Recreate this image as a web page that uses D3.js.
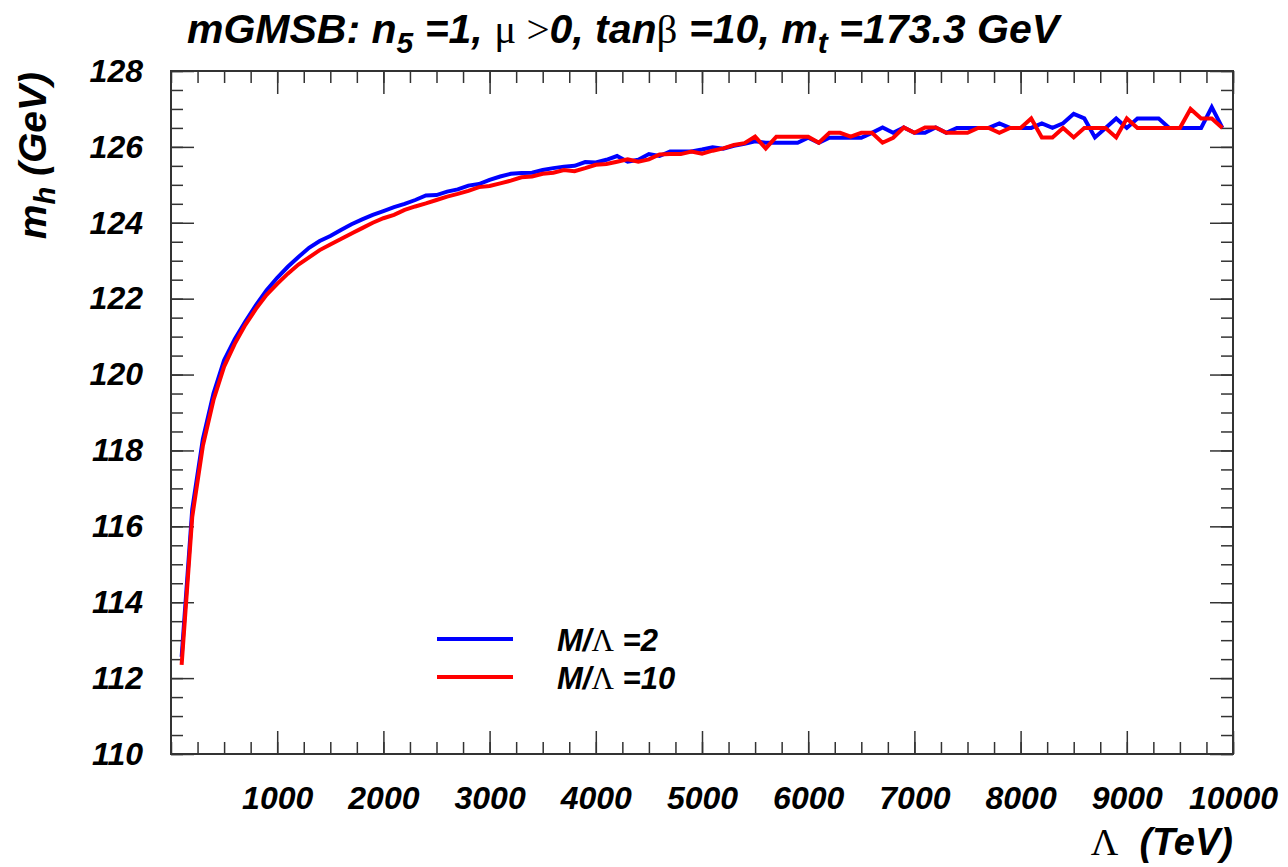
<!DOCTYPE html>
<html lang="en">
  <head>
    <meta charset="UTF-8" />
    <title>mGMSB Higgs mass</title>
    <script src="https://cdn.jsdelivr.net/npm/d3@7"></script>
    <style type="text/css">
      body { margin: 0; background: #fff; }
      .lab { font-family: 'Liberation Sans', Arial, sans-serif; font-weight: bold; font-style: italic; fill: #000; white-space: pre; }
      .sym { font-family: 'Liberation Serif', 'DejaVu Serif', serif; font-weight: normal; font-style: normal; }
    </style>
  </head>
  <body>
    <div class="chart"></div>
    <script type="text/javascript">
      // Lambda (TeV)
      var lambdaVals = [
        100, 200, 300, 400, 500, 600, 700, 800, 900, 1000,
        1100, 1200, 1300, 1400, 1500, 1600, 1700, 1800, 1900, 2000,
        2100, 2200, 2300, 2400, 2500, 2600, 2700, 2800, 2900, 3000,
        3100, 3200, 3300, 3400, 3500, 3600, 3700, 3800, 3900, 4000,
        4100, 4200, 4300, 4400, 4500, 4600, 4700, 4800, 4900, 5000,
        5100, 5200, 5300, 5400, 5500, 5600, 5700, 5800, 5900, 6000,
        6100, 6200, 6300, 6400, 6500, 6600, 6700, 6800, 6900, 7000,
        7100, 7200, 7300, 7400, 7500, 7600, 7700, 7800, 7900, 8000,
        8100, 8200, 8300, 8400, 8500, 8600, 8700, 8800, 8900, 9000,
        9100, 9200, 9300, 9400, 9500, 9600, 9700, 9800, 9900
      ]
      // m_h for M/Lambda = 2
      var mhRatio2 = [
        112.56, 116.45, 118.3, 119.5, 120.38, 120.93, 121.4, 121.83, 122.22, 122.55,
        122.84, 123.1, 123.34, 123.52, 123.65, 123.81, 123.96, 124.09, 124.21, 124.31,
        124.41, 124.5, 124.6, 124.72, 124.73, 124.82, 124.88, 124.98, 125.02, 125.13,
        125.22, 125.29, 125.31, 125.32, 125.39, 125.44, 125.48, 125.5, 125.6, 125.59,
        125.66, 125.76, 125.61, 125.66, 125.81, 125.76, 125.88, 125.88, 125.88, 125.93,
        125.99, 125.95, 126.03, 126.08, 126.15, 126.11, 126.11, 126.11, 126.11, 126.24,
        126.11, 126.24, 126.24, 126.24, 126.24, 126.37, 126.51, 126.37, 126.51, 126.37,
        126.37, 126.51, 126.37, 126.5, 126.5, 126.5, 126.5, 126.62, 126.5, 126.5,
        126.5, 126.62, 126.5, 126.62, 126.87, 126.75, 126.25, 126.5, 126.75, 126.5,
        126.75, 126.75, 126.75, 126.5, 126.5, 126.5, 126.5, 127.05, 126.5
      ]
      // m_h for M/Lambda = 10
      var mhRatio10 = [
        112.35, 116.25, 118.12, 119.33, 120.21, 120.81, 121.31, 121.73, 122.1, 122.39,
        122.66, 122.9, 123.09, 123.28, 123.43, 123.57, 123.72, 123.86, 124.0, 124.12,
        124.21, 124.34, 124.43, 124.51, 124.6, 124.69, 124.76, 124.84, 124.94, 124.97,
        125.04, 125.11, 125.2, 125.22, 125.29, 125.32, 125.39, 125.36, 125.44, 125.53,
        125.55, 125.61, 125.67, 125.61, 125.67, 125.8, 125.81, 125.81, 125.88, 125.82,
        125.9, 125.96, 126.05, 126.1, 126.27, 125.96, 126.27, 126.27, 126.27, 126.27,
        126.11, 126.37, 126.37, 126.27, 126.37, 126.37, 126.11, 126.24, 126.51, 126.37,
        126.51, 126.51, 126.37, 126.37, 126.37, 126.5, 126.5, 126.37, 126.5, 126.5,
        126.75, 126.25, 126.25, 126.5, 126.25, 126.5, 126.5, 126.5, 126.25, 126.75,
        126.5, 126.5, 126.5, 126.5, 126.5, 127.0, 126.75, 126.75, 126.5
      ]
      var xTicks = [1000, 2000, 3000, 4000, 5000, 6000, 7000, 8000, 9000, 10000]
      var yTicks = [110, 112, 114, 116, 118, 120, 122, 124, 126, 128]
      var seriesNames = ['2', '10']
      var colors = ['#0000ff', '#ff0000']

      var W = 1288, H = 867
      var svg = d3.select('.chart').append('svg').attr('width', W).attr('height', H)

      var x = d3.scaleLinear().domain([0, 10000]).range([171, 1233])
      var y = d3.scaleLinear().domain([110, 128]).range([754, 71])

      var xMinor = d3.range(0, 10001, 250)
      var yMinor = d3.range(110, 128.01, 0.5)

      // ticks point inward on all four sides, ROOT style
      function ticks(axis, vals, size, tr) {
        var g = svg.append('g').attr('transform', tr).call(axis.tickValues(vals).tickSize(size).tickFormat(''))
        g.select('.domain').remove()
        g.selectAll('line').attr('stroke', '#333').attr('stroke-width', 1.5)
        return g
      }
      ticks(d3.axisBottom(x), xMinor, -12, 'translate(0,754)')
      ticks(d3.axisBottom(x), xTicks, -23, 'translate(0,754)')
      ticks(d3.axisTop(x), xMinor, -12, 'translate(0,71)')
      ticks(d3.axisTop(x), xTicks, -23, 'translate(0,71)')
      ticks(d3.axisLeft(y), yMinor, -12, 'translate(171,0)')
      ticks(d3.axisLeft(y), yTicks, -23, 'translate(171,0)')
      ticks(d3.axisRight(y), yMinor, -12, 'translate(1233,0)')
      ticks(d3.axisRight(y), yTicks, -23, 'translate(1233,0)')

      // tick labels
      var xl = svg.append('g').attr('transform', 'translate(0,754)')
        .call(d3.axisBottom(x).tickValues(xTicks).tickSize(0).tickPadding(32).tickFormat(d3.format('d')))
      xl.select('.domain').remove()
      xl.selectAll('text').attr('class', 'lab').style('font-size', '32px')

      var yl = svg.append('g').attr('transform', 'translate(171,0)')
        .call(d3.axisLeft(y).tickValues(yTicks).tickSize(0).tickPadding(28).tickFormat(d3.format('d')))
      yl.select('.domain').remove()
      yl.selectAll('text').attr('class', 'lab').style('font-size', '32px')

      svg.append('rect').attr('x', 171).attr('y', 71).attr('width', 1062).attr('height', 683)
        .attr('fill', 'none').attr('stroke', '#333').attr('stroke-width', 2)

      var line = d3.line().x((d) => x(d[0])).y((d) => y(d[1]))
      var series = [mhRatio2, mhRatio10]
      series.forEach((vals, i) => {
        svg.append('path')
          .datum(lambdaVals.map((l, j) => [l, vals[j]]))
          .attr('d', line)
          .attr('fill', 'none')
          .attr('stroke', colors[i])
          .attr('stroke-width', 4)
          .attr('stroke-linejoin', 'miter')
      })

      // legend
      var leg = svg.append('g')
      seriesNames.forEach((s, i) => {
        var yy = 639 + i * 38
        leg.append('line').attr('x1', 437).attr('x2', 513).attr('y1', yy).attr('y2', yy)
          .attr('stroke', colors[i]).attr('stroke-width', 4)
        var t = leg.append('text').attr('class', 'lab').attr('x', 557).attr('y', yy + 12).style('font-size', '31px')
        t.append('tspan').text('M/')
        t.append('tspan').attr('class', 'sym').text('Λ')
        t.append('tspan').text(' =' + s)
      })

      // title
      var title = svg.append('text').attr('class', 'lab').attr('x', 187).attr('y', 43).style('font-size', '41px')
      title.append('tspan').text('mGMSB: n')
      title.append('tspan').attr('dy', 10).style('font-size', '30px').text('5')
      title.append('tspan').attr('dy', -10).text(' =1, ')
      title.append('tspan').attr('class', 'sym').text('μ >')
      title.append('tspan').text('0, tan')
      title.append('tspan').attr('class', 'sym').text('β')
      title.append('tspan').text(' =10, m')
      title.append('tspan').attr('dy', 10).style('font-size', '30px').text('t')
      title.append('tspan').attr('dy', -10).text(' =173.3 GeV')

      // axis titles
      var xt = svg.append('text').attr('class', 'lab').attr('x', 1233).attr('y', 855)
        .attr('text-anchor', 'end').style('font-size', '38px')
      xt.append('tspan').attr('class', 'sym').text('Λ')
      xt.append('tspan').text('  (TeV)')

      var yt = svg.append('text').attr('class', 'lab').attr('transform', 'translate(46,72) rotate(-90)')
        .attr('text-anchor', 'end').style('font-size', '39px')
      yt.append('tspan').text('m')
      yt.append('tspan').attr('dy', 9).style('font-size', '29px').text('h')
      yt.append('tspan').attr('dy', -9).text(' (GeV)')
    </script>
  </body>
</html>
